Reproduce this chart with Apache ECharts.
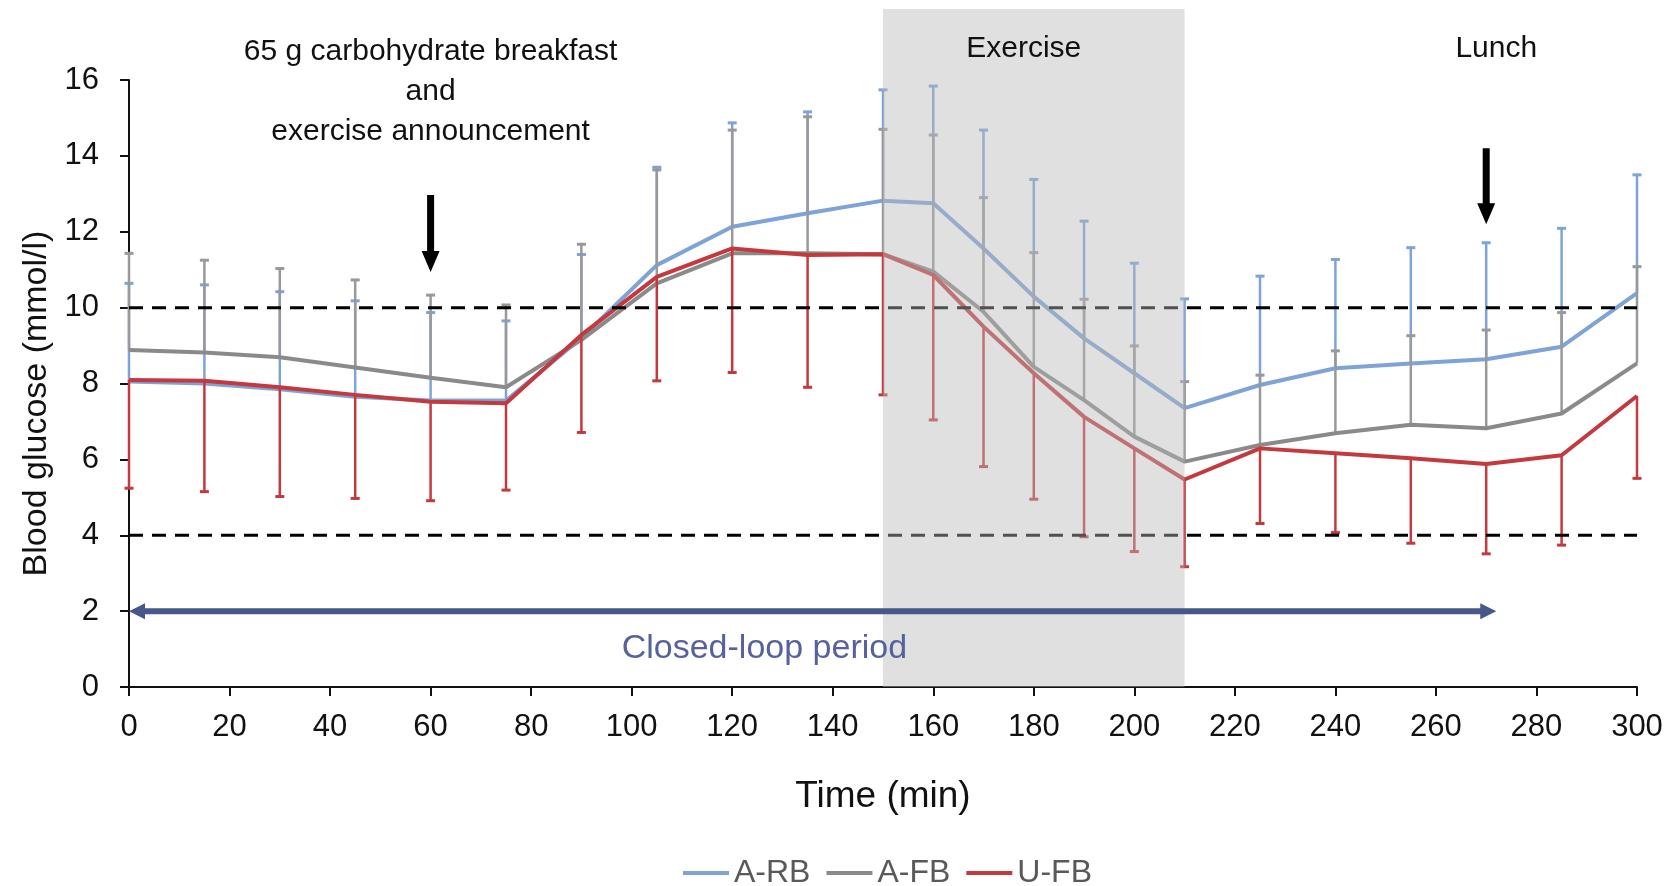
<!DOCTYPE html>
<html>
<head>
<meta charset="utf-8">
<script src="https://cdn.jsdelivr.net/npm/echarts@6/dist/echarts.min.js"></script>
<style>html,body{margin:0;padding:0;background:#fff}#c{width:1672px;height:886px}</style>
</head>
<body>
<div id="c"></div>
<script>
// ---- data ----
const times = [0,15,30,45,60,75,90,105,120,135,150,160,170,180,190,200,210,225,240,255,270,285,300];
const arbMean  = [8.05,8.0,7.85,7.65,7.55,7.55,9.2,11.12,12.13,12.49,12.82,12.75,11.56,10.29,9.19,8.27,7.35,7.96,8.4,8.53,8.64,8.97,10.38];
const arbUpper = [10.64,10.6,10.42,10.18,9.87,9.65,11.4,13.7,14.87,15.16,15.74,15.84,14.68,13.38,12.28,11.17,10.23,10.83,11.27,11.58,11.71,12.09,13.5];
const afbMean  = [8.88,8.82,8.69,8.42,8.15,7.9,9.15,10.64,11.43,11.43,11.41,10.95,9.89,8.44,7.56,6.6,5.94,6.38,6.69,6.91,6.82,7.21,8.53];
const afbUpper = [11.43,11.25,11.03,10.73,10.33,10.07,11.67,13.63,14.68,15.03,14.7,14.55,12.9,11.45,10.22,8.99,8.05,8.22,8.86,9.26,9.41,9.87,11.08];
const ufbMean  = [8.09,8.07,7.9,7.7,7.52,7.48,9.28,10.81,11.56,11.39,11.41,10.86,9.5,8.27,7.12,6.29,5.47,6.29,6.16,6.03,5.88,6.11,7.67];
const ufbLower = [5.24,5.15,5.02,4.97,4.91,5.19,6.71,8.07,8.29,7.9,7.7,7.04,5.81,4.95,3.96,3.57,3.17,4.31,4.07,3.79,3.51,3.74,5.5];
const seriesNames = ['A-RB','A-FB','U-FB'];
const xTicks = {min:0, max:300, interval:20};
const yTicks = {min:0, max:16, interval:2};
const thresholds = [4, 10];
const exercise = [150, 210];
const shadeTop = 17.87;
const eventArrows = [[60, 12.97, 10.94], [270, 14.2, 12.2]]; // x, from, to
const closedLoop = [0, 272, 2]; // from, to, y
const annoX = [60, 178, 272, 126.4];
const annoY = [15.7, 16.82, 16.82, 1.0];
const annoText = ['65 g carbohydrate breakfast\nand\nexercise announcement', 'Exercise', 'Lunch', 'Closed-loop period'];

// ---- styles ----
const FONT = "'Liberation Sans',Arial,sans-serif";
const C_BLUE = '#7da3d8', C_GRAY = '#8a8a8a', C_RED = '#c4393e';

function pairs(xs, ys){ return xs.map((x,i)=>[x, ys[i]]); }
function triples(xs, a, b){ return xs.map((x,i)=>[x, a[i], b[i]]); }

function errSeries(name, color, data, z){
  return {
    type:'custom', name: name, z: z, silent:true,
    data: data, encode:{x:0, y:[1,2]},
    renderItem: function(params, api){
      const p0 = api.coord([api.value(0), api.value(1)]);
      const p1 = api.coord([api.value(0), api.value(2)]);
      return {type:'group', children:[
        {type:'line', shape:{x1:p0[0],y1:p0[1],x2:p1[0],y2:p1[1]}, style:{stroke:color, lineWidth:2.5}},
        {type:'line', shape:{x1:p1[0]-4.5,y1:p1[1],x2:p1[0]+4.5,y2:p1[1]}, style:{stroke:color, lineWidth:3}}
      ]};
    }
  };
}
function lineSeries(name, color, data, z){
  return {type:'line', name:name, z:z, data:data, symbol:'none', showSymbol:false,
    lineStyle:{color:color, width:4}, itemStyle:{color:color}, silent:true};
}

const chart = echarts.init(document.getElementById('c'), null, {renderer:'canvas'});
const option = {
  animation:false,
  backgroundColor:'#ffffff',
  grid:{left:129, right:35, top:80, bottom:199},
  legend:{
    data: seriesNames, left:678, top:852, icon:'rect', itemWidth:46, itemHeight:4, itemGap:16,
    textStyle:{fontFamily:FONT, fontSize:32, color:'#595959'}
  },
  xAxis:{
    type:'value', min:xTicks.min, max:xTicks.max, interval:xTicks.interval,
    name:'Time (min)', nameLocation:'middle', nameGap:91,
    nameTextStyle:{fontFamily:FONT, fontSize:37, color:'#111', verticalAlign:'top'},
    axisLine:{show:true, lineStyle:{color:'#111', width:2}},
    axisTick:{show:true, length:9, lineStyle:{color:'#111', width:2}},
    axisLabel:{fontFamily:FONT, fontSize:31, color:'#111', margin:25},
    splitLine:{show:false}
  },
  yAxis:{
    type:'value', min:yTicks.min, max:yTicks.max, interval:yTicks.interval,
    name:'Blood glucose (mmol/l)', nameLocation:'middle', nameGap:75,
    nameTextStyle:{fontFamily:FONT, fontSize:34, color:'#111', padding:[0,40,0,0]},
    axisLine:{show:true, lineStyle:{color:'#111', width:2}},
    axisTick:{show:true, length:9, lineStyle:{color:'#111', width:2}},
    axisLabel:{fontFamily:FONT, fontSize:31, color:'#111', margin:30},
    splitLine:{show:false}
  },
  series:[
    errSeries('errA-RB', C_BLUE, triples(times, arbMean, arbUpper), 1),
    lineSeries('A-RB', C_BLUE, pairs(times, arbMean), 2),
    errSeries('errA-FB', '#999999', triples(times, afbMean, afbUpper), 3),
    lineSeries('A-FB', C_GRAY, pairs(times, afbMean), 4),
    errSeries('errU-FB', C_RED, triples(times, ufbMean, ufbLower), 5),
    lineSeries('U-FB', C_RED, pairs(times, ufbMean), 6),
    {
      type:'custom', name:'thresholds', z:7, silent:true,
      data: thresholds.map(v=>[v]),
      renderItem:function(params, api){
        const v = api.value(0);
        const a = api.coord([xTicks.min, v]), b = api.coord([xTicks.max, v]);
        return {type:'line', shape:{x1:a[0],y1:a[1],x2:b[0],y2:b[1]},
          style:{stroke:'#000', lineWidth:3, lineDash:[14,9]}};
      }
    },
    {
      type:'custom', name:'exercise', z:8, silent:true, clip:false,
      data:[[exercise[0], exercise[1]]],
      renderItem:function(params, api){
        const a = api.coord([api.value(0), 0]), b = api.coord([api.value(1), shadeTop]);
        return {type:'rect', shape:{x:a[0], y:b[1], width:b[0]-a[0], height:a[1]-b[1]},
          style:{fill:'rgba(184,184,184,0.44)'}};
      }
    },
    {
      type:'custom', name:'eventArrows', z:9, silent:true, clip:false,
      data: eventArrows,
      renderItem:function(params, api){
        const a = api.coord([api.value(0), api.value(1)]);
        const b = api.coord([api.value(0), api.value(2)]);
        const x = a[0], sw = 3.5, hw = 9, hl = 21;
        const yb = b[1] - hl;
        return {type:'polygon', shape:{points:[
          [x-sw,a[1]],[x+sw,a[1]],[x+sw,yb],[x+hw,yb],[x,b[1]],[x-hw,yb],[x-sw,yb]
        ]}, style:{fill:'#000'}};
      }
    },
    {
      type:'custom', name:'closedLoop', z:9, silent:true, clip:false,
      data:[closedLoop],
      renderItem:function(params, api){
        const a = api.coord([api.value(0), api.value(2)]);
        const b = api.coord([api.value(1), api.value(2)]);
        const y = a[1], sw = 3, hw = 8, hl = 16;
        return {type:'polygon', shape:{points:[
          [a[0],y],[a[0]+hl,y-hw],[a[0]+hl,y-sw],[b[0]-hl,y-sw],[b[0]-hl,y-hw],[b[0],y],
          [b[0]-hl,y+hw],[b[0]-hl,y+sw],[a[0]+hl,y+sw],[a[0]+hl,y+hw]
        ]}, style:{fill:'#465789'}};
      }
    },
    {
      type:'custom', name:'annotations', z:9, silent:true, clip:false,
      data: pairs(annoX, annoY),
      renderItem:function(params, api){
        const p = api.coord([api.value(0), api.value(1)]);
        const i = params.dataIndex;
        const isLoop = i === 3;
        return {type:'text', x:p[0], y:p[1], style:{
          text: annoText[i], fill: isLoop ? '#56619e' : '#111',
          font: (isLoop ? '34px ' : '30px ') + FONT,
          align:'center', verticalAlign:'middle', lineHeight:40
        }};
      }
    }
  ]
};
chart.setOption(option);
</script>
</body>
</html>
